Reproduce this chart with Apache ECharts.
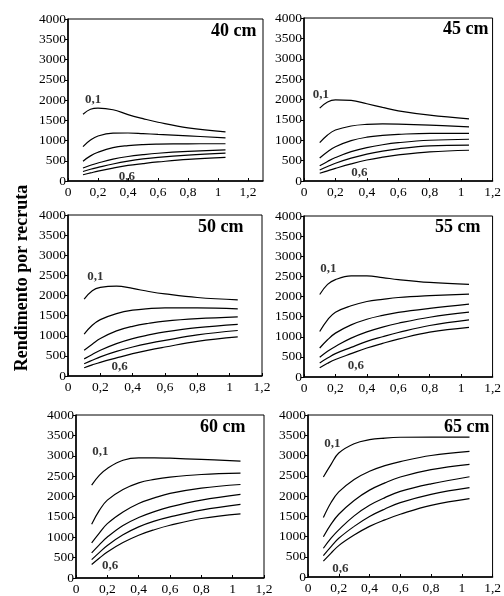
<!DOCTYPE html>
<html>
<head>
<meta charset="utf-8">
<script src="https://cdn.jsdelivr.net/npm/echarts@6/dist/echarts.min.js"></script>
<style>
html, body { margin: 0; padding: 0; background: #fff; }
#chart { width: 504px; height: 596px; }
</style>
</head>
<body>
<div id="chart"></div>
<script>
// valores de F (eixo x)
var xs = [0.1, 0.15, 0.2, 0.3, 0.4, 0.5, 0.6, 0.8, 1.05];

var panelTitles = ['40 cm', '45 cm', '50 cm', '55 cm', '60 cm', '65 cm'];
var curveLabels = ['0,1', '0,6'];
var yAxisName = 'Rendimento por recruta';

// uma linha por curva (0,1 ... 0,6)
var rend40 = [
	[1650, 1770, 1800, 1760, 1640, 1540, 1450, 1310, 1215],
	[850, 1010, 1110, 1180, 1185, 1170, 1150, 1115, 1065],
	[490, 620, 710, 825, 875, 900, 910, 918, 920],
	[320, 390, 445, 540, 605, 650, 685, 730, 770],
	[235, 290, 335, 420, 490, 545, 585, 640, 690],
	[155, 200, 245, 320, 385, 430, 470, 535, 583]
];
var rend45 = [
	[1790, 1940, 1990, 1980, 1895, 1805, 1720, 1615, 1525],
	[940, 1130, 1250, 1350, 1390, 1400, 1395, 1370, 1330],
	[565, 720, 840, 990, 1075, 1120, 1145, 1170, 1170],
	[375, 480, 575, 720, 820, 890, 940, 1000, 1025],
	[270, 355, 435, 560, 660, 735, 790, 860, 880],
	[190, 250, 310, 420, 515, 585, 640, 715, 755]
];
var rend50 = [
	[1910, 2120, 2200, 2235, 2175, 2100, 2040, 1950, 1890],
	[1040, 1260, 1400, 1550, 1635, 1675, 1695, 1695, 1670],
	[640, 790, 930, 1120, 1235, 1310, 1365, 1425, 1470],
	[425, 535, 640, 805, 930, 1020, 1095, 1200, 1285],
	[305, 390, 475, 610, 720, 810, 885, 1020, 1130],
	[205, 275, 340, 450, 555, 645, 720, 860, 970]
];
var rend55 = [
	[2050, 2300, 2420, 2510, 2510, 2470, 2420, 2350, 2300],
	[1130, 1420, 1610, 1770, 1875, 1930, 1975, 2020, 2060],
	[720, 925, 1090, 1295, 1435, 1530, 1605, 1705, 1810],
	[490, 640, 760, 965, 1120, 1240, 1335, 1485, 1610],
	[350, 470, 580, 735, 885, 1000, 1105, 1280, 1420],
	[230, 340, 435, 580, 720, 835, 940, 1115, 1235]
];
var rend60 = [
	[2280, 2525, 2690, 2890, 2950, 2950, 2940, 2910, 2870],
	[1320, 1665, 1910, 2170, 2335, 2420, 2475, 2540, 2575],
	[860, 1105, 1335, 1620, 1830, 1965, 2075, 2205, 2295],
	[615, 820, 1005, 1290, 1485, 1630, 1745, 1910, 2050],
	[450, 630, 800, 1060, 1255, 1395, 1500, 1665, 1805],
	[330, 490, 640, 870, 1050, 1185, 1295, 1460, 1575]
];
var rend65 = [
	[2470, 2780, 3060, 3290, 3390, 3430, 3450, 3455, 3455],
	[1470, 1840, 2100, 2410, 2610, 2750, 2850, 3000, 3100],
	[995, 1305, 1550, 1890, 2145, 2325, 2470, 2650, 2780],
	[710, 960, 1165, 1510, 1770, 1960, 2115, 2300, 2475],
	[530, 750, 955, 1250, 1495, 1680, 1835, 2040, 2205],
	[390, 590, 775, 1035, 1250, 1410, 1550, 1770, 1935]
];
var panels = [rend40, rend45, rend50, rend55, rend60, rend65];

// onde ficam os rotulos "0,1" e "0,6" (coordenadas dos eixos)
var labelPos = [
	[[0.167, 2000], [0.393, 115]],
	[[0.108, 2107], [0.352, 213]],
	[[0.17, 2465], [0.32, 240]],
	[[0.155, 2697], [0.33, 287]],
	[[0.156, 3098], [0.218, 311]],
	[[0.159, 3282], [0.21, 204]]
];

// posicao de cada painel na pagina
var layout = [
	{ left: 68, top: 19, width: 195, height: 162, xMax: 1.3, tLeft: 211, tTop: 22 },
	{ left: 304, top: 18, width: 190, height: 163, xMax: 1.2, tLeft: 443, tTop: 20 },
	{ left: 68, top: 215, width: 194, height: 161, xMax: 1.2, tLeft: 198, tTop: 218 },
	{ left: 304, top: 216, width: 192, height: 161, xMax: 1.2, tLeft: 435, tTop: 218 },
	{ left: 76, top: 415, width: 188, height: 163, xMax: 1.2, tLeft: 200, tTop: 418 },
	{ left: 308, top: 415, width: 189, height: 162, xMax: 1.2, tLeft: 444, tTop: 418 }
];

var serif = '"Liberation Serif", "Times New Roman", serif';

var grids = [], xAxes = [], yAxes = [], titles = [], series = [];
layout.forEach(function(l, p) {
	grids.push({
		left: l.left, top: l.top, width: l.width, height: l.height,
		show: true, borderColor: '#000', borderWidth: 1, backgroundColor: 'transparent'
	});
	xAxes.push({
		type: 'value', gridIndex: p, min: 0, max: l.xMax, interval: 0.2,
		axisLine: { show: true, lineStyle: { color: '#000', width: 1.5 } },
		axisTick: { show: true, inside: true, length: 3, lineStyle: { color: '#000' } },
		splitLine: { show: false },
		axisLabel: {
			margin: 4, color: '#000', fontFamily: serif, fontSize: 13.5,
			showMaxLabel: l.xMax === 1.2,
			formatter: function(v) { return String(Math.round(v * 10) / 10).replace('.', ','); }
		}
	});
	yAxes.push({
		type: 'value', gridIndex: p, min: 0, max: 4000, interval: 500,
		axisLine: { show: true, lineStyle: { color: '#000', width: 1.5 } },
		axisTick: { show: true, inside: false, length: 3, lineStyle: { color: '#000' } },
		splitLine: { show: false },
		axisLabel: {
			margin: 2, color: '#000', fontFamily: serif, fontSize: 13.5,
			formatter: function(v) { return String(v); }
		}
	});
	titles.push({
		text: panelTitles[p], left: l.tLeft, top: l.tTop, padding: 0,
		textStyle: { fontFamily: serif, fontWeight: 'bold', fontSize: 18, color: '#000' }
	});
	panels[p].forEach(function(vals) {
		series.push({
			type: 'line', xAxisIndex: p, yAxisIndex: p, silent: true,
			showSymbol: false, smooth: 0.4,
			lineStyle: { color: '#000', width: 1.2 },
			data: xs.map(function(x, i) { return [x, vals[i]]; })
		});
	});
	series.push({
		type: 'scatter', xAxisIndex: p, yAxisIndex: p, silent: true, symbolSize: 0,
		label: {
			show: true, position: 'inside', color: '#000',
			fontFamily: serif, fontWeight: 'bold', fontSize: 13
		},
		data: labelPos[p].map(function(pt, i) {
			return { value: pt, label: { formatter: curveLabels[i] } };
		})
	});
});

var myChart = echarts.init(document.getElementById('chart'));
myChart.setOption({
	animation: false,
	backgroundColor: '#fff',
	title: titles,
	grid: grids,
	xAxis: xAxes,
	yAxis: yAxes,
	series: series,
	graphic: [{
		type: 'text', x: 22, y: 278, rotation: Math.PI / 2,
		style: {
			text: yAxisName, fill: '#000',
			font: 'bold 18px ' + serif,
			align: 'center', verticalAlign: 'middle',
			textAlign: 'center', textVerticalAlign: 'middle'
		}
	}]
});
</script>
</body>
</html>
